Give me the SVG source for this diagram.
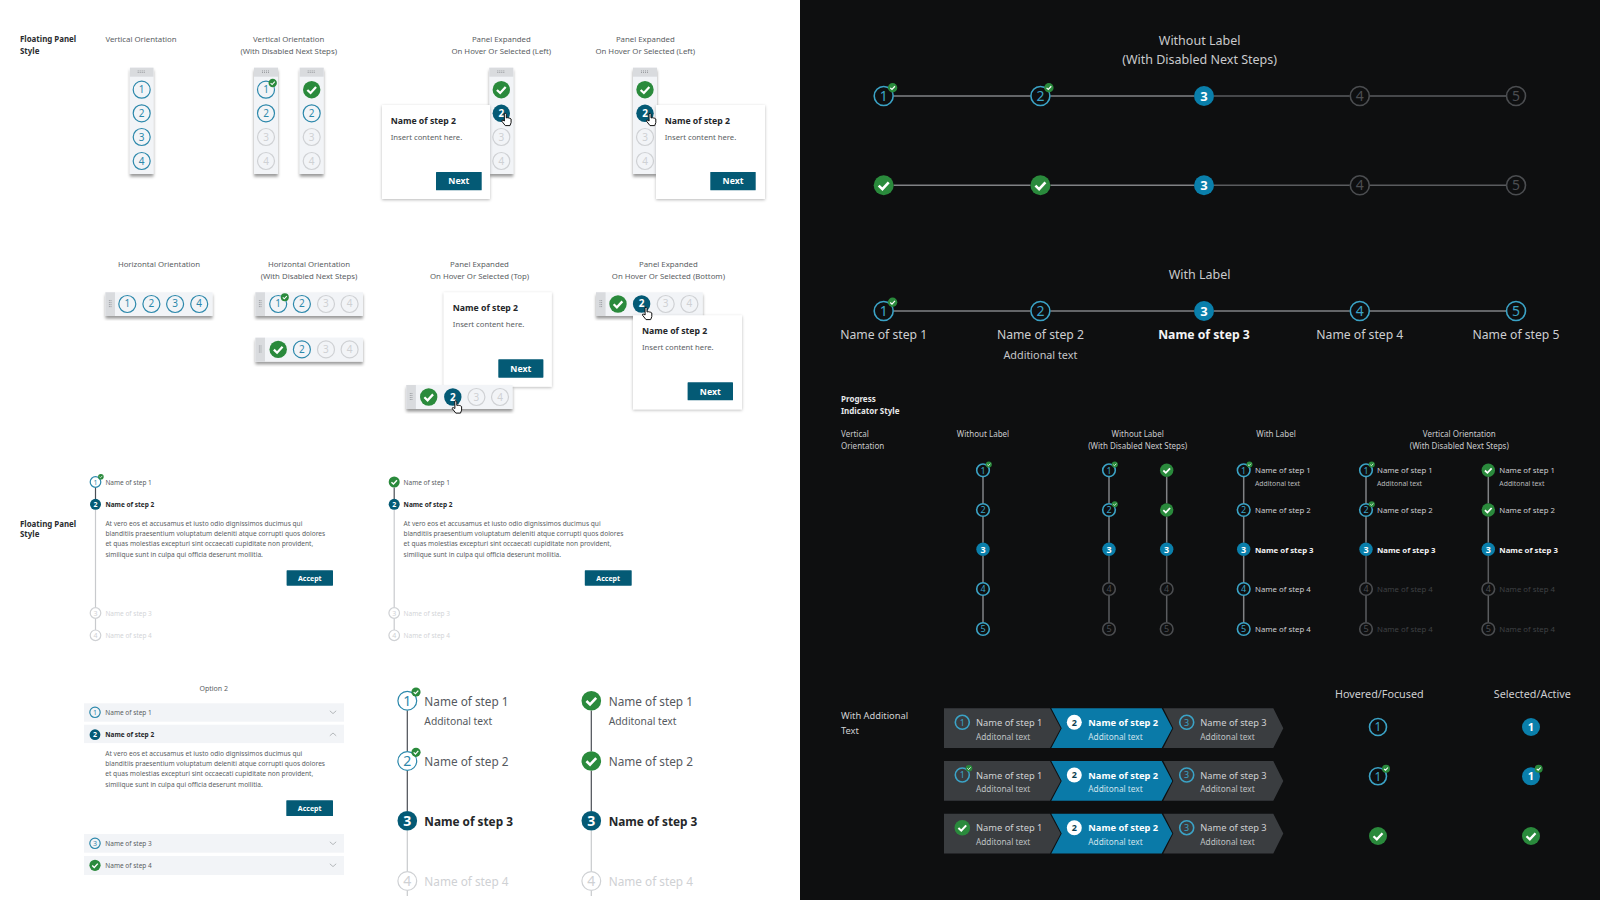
<svg xmlns="http://www.w3.org/2000/svg" xmlns:xlink="http://www.w3.org/1999/xlink" width="1600" height="900" viewBox="0 0 1600 900">
<style>
text{font-family:"Noto Sans","Open Sans",sans-serif}
.cap{font-size:7.8px;fill:#5a5e63;text-anchor:middle}
.hd{font-size:7.9px;font-weight:700;fill:#2a2c2f}
.dcap{font-size:8px;fill:#c9cacc;text-anchor:middle}
.dcapl{font-size:8px;fill:#c9cacc}
.dhd{font-size:8px;font-weight:700;fill:#e8e9ea}
.big{font-size:12.5px;fill:#c9cacc;text-anchor:middle}
.b{fill:none;stroke:#2c88ab;stroke-width:1.2}
.d{fill:none;stroke:#cfd1d4;stroke-width:1.2}
.num{font-size:10px;fill:#2c88ab;text-anchor:middle}
.numd{font-size:10px;fill:#cfd1d4;text-anchor:middle}
.numw{font-size:10px;font-weight:700;fill:#fff;text-anchor:middle}
.pan{fill:#f2f4f7;filter:url(#sh)}
.gr{fill:#d9dbde}
.card{fill:#fff;filter:url(#sc)}
.navy{fill:#045a75}
.ttl{font-size:8.7px;font-weight:700;fill:#25272a}
.ins{font-size:7.7px;fill:#5a5e63}
.btxt{font-size:8.7px;font-weight:700;fill:#fff;text-anchor:middle}
.s{font-size:6.5px;fill:#5a5e63}
.sb{font-size:6.5px;font-weight:700;fill:#25272a}
.sd{font-size:6.5px;fill:#d3d5d8}
.p{font-size:6.6px;fill:#5a5e63}
.acc{font-size:7px;font-weight:700;fill:#fff;text-anchor:middle}
.row{fill:#f2f4f7}
.m{font-size:11.8px;fill:#55595e}
.mb{font-size:11.8px;font-weight:700;fill:#25272a}
.md{font-size:11.8px;fill:#cfd1d4}
.ms{font-size:10.3px;fill:#55595e}
.nlg{font-size:14px;fill:#2c88ab;text-anchor:middle}
.nlgd{font-size:14px;fill:#cfd1d4;text-anchor:middle}
.nlgw{font-size:14px;font-weight:700;fill:#fff;text-anchor:middle}
.db{fill:none;stroke:#3ba3c6;stroke-width:1.6}
.dd{fill:none;stroke:#4b4d50;stroke-width:1.6}
.da{fill:#0a7fab}
.nt{font-size:14px;fill:#3ba3c6;text-anchor:middle}
.nd{font-size:14px;fill:#4b4d50;text-anchor:middle}
.nw{font-size:13px;font-weight:700;fill:#fff;text-anchor:middle}
.lab{font-size:12.2px;fill:#cdced0;text-anchor:middle}
.labb{font-size:12.2px;font-weight:700;fill:#f4f4f5;text-anchor:middle}
.add{font-size:10.8px;fill:#c5c6c8;text-anchor:middle}
.vn{font-size:9px;fill:#3ba3c6;text-anchor:middle}
.vnd{font-size:9px;fill:#4b4d50;text-anchor:middle}
.vnw{font-size:9px;font-weight:700;fill:#fff;text-anchor:middle}
.vl{font-size:7.8px;fill:#cdced0}
.vlb{font-size:7.8px;font-weight:700;fill:#f4f4f5}
.vld{font-size:7.8px;fill:#3f4144}
.vs{font-size:6.85px;fill:#b9babc}
.seg{fill:#3a3d40}
.segb{fill:#0a7aa8}
.cl{font-size:9.3px;fill:#d0d1d3}
.clb{font-size:9.3px;font-weight:700;fill:#fff}
.cs{font-size:8.25px;fill:#bfc1c3}
.csb{font-size:8.25px;fill:#cfe3ec}
.st{font-size:10.8px;fill:#cdced0;text-anchor:middle}
.lo{stroke-width:1.2;fill:none}
</style>
<defs>
<filter id="sh" x="-30%" y="-20%" width="160%" height="140%"><feDropShadow dx="0" dy="2.6" stdDeviation="1.5" flood-color="#000" flood-opacity=".4"/></filter>
<filter id="sc" x="-10%" y="-10%" width="120%" height="120%"><feDropShadow dx="0" dy="1" stdDeviation="1.8" flood-color="#000" flood-opacity=".28"/></filter>
<g id="ck"><circle r="1" fill="#2a8a3c"/><path d="M-.5 .03L-.13 .38L.5 -.3" fill="none" stroke="#fff" stroke-width=".26"/></g>
<g id="gv" fill="#9b9ea2"><rect x="-4" y="-1.3" width="1" height="1"/><rect x="-2" y="-1.3" width="1" height="1"/><rect x="0" y="-1.3" width="1" height="1"/><rect x="2" y="-1.3" width="1" height="1"/><rect x="-4" y=".3" width="1" height="1"/><rect x="-2" y=".3" width="1" height="1"/><rect x="0" y=".3" width="1" height="1"/><rect x="2" y=".3" width="1" height="1"/></g>
<path id="hand" d="M-2 -6.5q1.6 -.7 2 .8v3.6l1.4 -.2 1.2 .3 1.2 .3 1 .7v3.6l-1.1 3h-4.7l-3.5 -4.4q-.4 -1.4 1.3 -1l1.3 .8z" fill="#fff" stroke="#111" stroke-width="1"/>
</defs>
<rect width="800" height="900" fill="#fff"/>
<rect x="800" width="800" height="900" fill="#0e0f10"/>

<g id="connectors">
<g class="lo">
<path d="M95.5 487.4V499" stroke="#4a4e55"/><path d="M95.5 509.7V607.6M95.5 618.4V630" stroke="#c8cacd"/>
<path d="M394.2 487.4V499" stroke="#4a4e55"/><path d="M394.2 509.7V607.6M394.2 618.4V630" stroke="#c8cacd"/>
<path d="M407.3 710.4V751.3M407.3 770.7V811" stroke="#4a4e55"/><path d="M407.3 830.4V871.3M407.3 890.7V896" stroke="#c8cacd"/>
<path d="M591.3 710.4V751.3M591.3 770.7V811" stroke="#4a4e55"/><path d="M591.3 830.4V871.3M591.3 890.7V896" stroke="#c8cacd"/>
</g>
<g fill="none" stroke="#808285" stroke-width="1.5">
<path d="M893.7 96H1030.4M1050.4 96H1194"/><path d="M893.7 185.3H1030.4M1050.4 185.3H1194"/>
<path d="M893.7 311H1030.4M1050.4 311H1194M1214 311H1349.8M1369.8 311H1506"/>
<path d="M983 476.8V503.5M983 516.5V542.8M983 555.8V582.5M983 595.5V622.5"/>
<path d="M1109 476.8V503.5M1109 516.5V542.8"/><path d="M1166.7 476.8V503.5M1166.7 516.5V542.8"/>
<path d="M1243.7 476.8V503.5M1243.7 516.5V542.8M1243.7 555.8V582.5M1243.7 595.5V622.5"/>
<path d="M1366 476.8V503.5M1366 516.5V542.8"/><path d="M1488.3 476.8V503.5M1488.3 516.5V542.8"/>
</g>
<g fill="none" stroke="#5a5c5f" stroke-width="1.5">
<path d="M1214 96H1349.8M1369.8 96H1506"/><path d="M1214 185.3H1349.8M1369.8 185.3H1506"/>
<path d="M1109 555.8V582.5M1109 595.5V622.5"/><path d="M1166.7 555.8V582.5M1166.7 595.5V622.5"/>
<path d="M1366 555.8V582.5M1366 595.5V622.5"/><path d="M1488.3 555.8V582.5M1488.3 595.5V622.5"/>
</g>
</g>

<g id="heading-floating-1"><text class="hd" x="20" y="41.5">Floating Panel</text><text class="hd" x="20" y="53.5">Style</text></g>
<g id="captions-row1">
<text class="cap" x="141" y="41.5">Vertical Orientation</text>
<text class="cap" x="288.7" y="41.5">Vertical Orientation</text><text class="cap" x="288.7" y="53.5">(With Disabled Next Steps)</text>
<text class="cap" x="501.3" y="41.5">Panel Expanded</text><text class="cap" x="501.3" y="53.5">On Hover Or Selected (Left)</text>
<text class="cap" x="645.3" y="41.5">Panel Expanded</text><text class="cap" x="645.3" y="53.5">On Hover Or Selected (Left)</text>
</g>

<g id="vpanel-1" transform="translate(141.7 0)">
<rect class="pan" x="-11.8" y="67.7" width="23.6" height="106.3"/><rect class="gr" x="-11.8" y="67.7" width="23.6" height="9"/><use href="#gv" y="71.7"/>
<circle class="b" cy="89.7" r="8.5"/><text class="num" y="93.2">1</text>
<circle class="b" cy="113.3" r="8.5"/><text class="num" y="116.8">2</text>
<circle class="b" cy="137" r="8.5"/><text class="num" y="140.5">3</text>
<circle class="b" cy="161" r="8.5"/><text class="num" y="164.5">4</text>
</g>
<g id="vpanel-2" transform="translate(266 0)">
<rect class="pan" x="-12" y="67.7" width="24" height="106.3"/><rect class="gr" x="-12" y="67.7" width="24" height="9"/><use href="#gv" y="71.7"/>
<circle class="b" cy="89.7" r="8.5"/><text class="num" y="93.2">1</text><use href="#ck" transform="translate(6.7 83) scale(4.2)"/>
<circle class="b" cy="113.3" r="8.5"/><text class="num" y="116.8">2</text>
<circle class="d" cy="137" r="8.5"/><text class="numd" y="140.5">3</text>
<circle class="d" cy="161" r="8.5"/><text class="numd" y="164.5">4</text>
</g>
<g id="vpanel-3" transform="translate(311.7 0)">
<rect class="pan" x="-12" y="67.7" width="24" height="106.3"/><rect class="gr" x="-12" y="67.7" width="24" height="9"/><use href="#gv" y="71.7"/>
<use href="#ck" transform="translate(0 89.7) scale(8.7)"/>
<circle class="b" cy="113.3" r="8.5"/><text class="num" y="116.8">2</text>
<circle class="d" cy="137" r="8.5"/><text class="numd" y="140.5">3</text>
<circle class="d" cy="161" r="8.5"/><text class="numd" y="164.5">4</text>
</g>
<g id="vpanel-left" transform="translate(501.3 0)">
<rect class="pan" x="-12" y="67.7" width="24" height="106.3"/><rect class="gr" x="-12" y="67.7" width="24" height="9"/><use href="#gv" y="71.7"/>
<use href="#ck" transform="translate(0 89.7) scale(8.7)"/>
<circle class="navy" cy="113.3" r="8.7"/><text class="numw" y="116.8">2</text>
<circle class="d" cy="137" r="8.5"/><text class="numd" y="140.5">3</text>
<circle class="d" cy="161" r="8.5"/><text class="numd" y="164.5">4</text>
<use href="#hand" transform="translate(5 120)"/>
</g>
<g id="card-left">
<rect class="card" x="382" y="105" width="108" height="94"/>
<text class="ttl" x="390.7" y="124">Name of step 2</text><text class="ins" x="390.7" y="140">Insert content here.</text>
<rect class="navy" x="436" y="172" width="45.7" height="18.3" rx=".6"/><text class="btxt" x="458.8" y="184.3">Next</text>
</g>
<g id="vpanel-right" transform="translate(645 0)">
<rect class="pan" x="-12" y="67.7" width="24" height="106.3"/><rect class="gr" x="-12" y="67.7" width="24" height="9"/><use href="#gv" y="71.7"/>
<use href="#ck" transform="translate(0 89.7) scale(8.7)"/>
<circle class="navy" cy="113.3" r="8.7"/><text class="numw" y="116.8">2</text>
<circle class="d" cy="137" r="8.5"/><text class="numd" y="140.5">3</text>
<circle class="d" cy="161" r="8.5"/><text class="numd" y="164.5">4</text>
</g>
<g id="card-right">
<rect class="card" x="656" y="105" width="109" height="94"/>
<text class="ttl" x="664.7" y="124">Name of step 2</text><text class="ins" x="664.7" y="140">Insert content here.</text>
<rect class="navy" x="710.3" y="172" width="45.4" height="18.3" rx=".6"/><text class="btxt" x="733" y="184.3">Next</text>
<use href="#hand" transform="translate(651 120)"/>
</g>

<g id="captions-row2">
<text class="cap" x="159" y="266.7">Horizontal Orientation</text>
<text class="cap" x="309" y="266.7">Horizontal Orientation</text><text class="cap" x="309" y="278.7">(With Disabled Next Steps)</text>
<text class="cap" x="479.5" y="266.7">Panel Expanded</text><text class="cap" x="479.5" y="278.7">On Hover Or Selected (Top)</text>
<text class="cap" x="668.4" y="266.7">Panel Expanded</text><text class="cap" x="668.4" y="278.7">On Hover Or Selected (Bottom)</text>
</g>
<g id="hpanel-1" transform="translate(105.4 292.3)">
<rect class="pan" width="107.2" height="23.7"/><rect class="gr" width="9.6" height="23.7"/><use href="#gv" transform="translate(4.8 11.8) rotate(90)"/>
<circle class="b" cx="21.9" cy="11.7" r="8.5"/><text class="num" x="21.9" y="15.2">1</text>
<circle class="b" cx="46" cy="11.7" r="8.5"/><text class="num" x="46" y="15.2">2</text>
<circle class="b" cx="69.7" cy="11.7" r="8.5"/><text class="num" x="69.7" y="15.2">3</text>
<circle class="b" cx="93.8" cy="11.7" r="8.5"/><text class="num" x="93.8" y="15.2">4</text>
</g>
<g id="hpanel-2" transform="translate(255.4 292.3)">
<rect class="pan" width="107.6" height="23.7"/><rect class="gr" width="9.6" height="23.7"/><use href="#gv" transform="translate(4.8 11.8) rotate(90)"/>
<circle class="b" cx="22.8" cy="11.7" r="8.5"/><text class="num" x="22.8" y="15.2">1</text><use href="#ck" transform="translate(29.4 5) scale(4)"/>
<circle class="b" cx="46.5" cy="11.7" r="8.5"/><text class="num" x="46.5" y="15.2">2</text>
<circle class="d" cx="70.6" cy="11.7" r="8.5"/><text class="numd" x="70.6" y="15.2">3</text>
<circle class="d" cx="94.2" cy="11.7" r="8.5"/><text class="numd" x="94.2" y="15.2">4</text>
</g>
<g id="hpanel-3" transform="translate(255.4 337.7)">
<rect class="pan" width="107.6" height="24"/><rect class="gr" width="9.6" height="24"/><use href="#gv" transform="translate(4.8 11.8) rotate(90)"/>
<use href="#ck" transform="translate(22.8 11.7) scale(8.7)"/>
<circle class="b" cx="46.5" cy="11.7" r="8.5"/><text class="num" x="46.5" y="15.2">2</text>
<circle class="d" cx="70.6" cy="11.7" r="8.5"/><text class="numd" x="70.6" y="15.2">3</text>
<circle class="d" cx="94.2" cy="11.7" r="8.5"/><text class="numd" x="94.2" y="15.2">4</text>
</g>
<g id="card-top">
<rect class="card" x="443.8" y="292.3" width="108" height="94.4"/>
<text class="ttl" x="452.8" y="311">Name of step 2</text><text class="ins" x="452.8" y="327.3">Insert content here.</text>
<rect class="navy" x="498.3" y="359.3" width="45.1" height="18.4" rx=".6"/><text class="btxt" x="520.8" y="371.7">Next</text>
</g>
<g id="hpanel-top" transform="translate(406.3 385)">
<rect class="pan" width="106.3" height="24"/><rect class="gr" width="9.6" height="24"/><use href="#gv" transform="translate(4.8 12) rotate(90)"/>
<use href="#ck" transform="translate(22.4 12) scale(8.7)"/>
<circle class="navy" cx="46.5" cy="12" r="8.7"/><text class="numw" x="46.5" y="15.5">2</text>
<circle class="d" cx="70.1" cy="12" r="8.5"/><text class="numd" x="70.1" y="15.5">3</text>
<circle class="d" cx="93.7" cy="12" r="8.5"/><text class="numd" x="93.7" y="15.5">4</text>
<use href="#hand" transform="translate(50.5 22.5)"/>
</g>
<g id="hpanel-bottom" transform="translate(596 292.3)">
<rect class="pan" width="106.8" height="23.7"/><rect class="gr" width="9.6" height="23.7"/><use href="#gv" transform="translate(4.8 11.8) rotate(90)"/>
<use href="#ck" transform="translate(22 11.7) scale(8.7)"/>
<circle class="navy" cx="45.6" cy="11.7" r="8.7"/><text class="numw" x="45.6" y="15.2">2</text>
<circle class="d" cx="69.7" cy="11.7" r="8.5"/><text class="numd" x="69.7" y="15.2">3</text>
<circle class="d" cx="93.4" cy="11.7" r="8.5"/><text class="numd" x="93.4" y="15.2">4</text>
</g>
<g id="card-bottom">
<rect class="card" x="633" y="315.3" width="109" height="94"/>
<text class="ttl" x="642" y="334">Name of step 2</text><text class="ins" x="642" y="350.3">Insert content here.</text>
<rect class="navy" x="687.6" y="382.3" width="45.4" height="18" rx=".6"/><text class="btxt" x="710.3" y="394.5">Next</text>
<use href="#hand" transform="translate(647 314)"/>
</g>

<g id="heading-floating-2"><text class="hd" x="20" y="526.7">Floating Panel</text><text class="hd" x="20" y="537">Style</text></g>
<g id="list-1">
<circle class="b" cx="95.5" cy="482" r="5.3"/><text class="num" style="font-size:7px" x="95.5" y="484.5">1</text><use href="#ck" transform="translate(100.9 476.7) scale(2.8)"/>
<text class="s" x="105.4" y="484.7">Name of step 1</text>
<circle class="navy" cx="95.5" cy="504.3" r="5.5"/><text class="numw" style="font-size:7px" x="95.5" y="506.8">2</text>
<text class="sb" x="105.4" y="507">Name of step 2</text>
<text class="p" x="105.4" y="526">At vero eos et accusamus et iusto odio dignissimos ducimus qui</text>
<text class="p" x="105.4" y="536.3">blanditiis praesentium voluptatum deleniti atque corrupti quos dolores</text>
<text class="p" x="105.4" y="546.3">et quas molestias excepturi sint occaecati cupiditate non provident,</text>
<text class="p" x="105.4" y="556.7">similique sunt in culpa qui officia deserunt mollitia.</text>
<rect class="navy" x="286.6" y="570.3" width="46.4" height="15.4" rx=".6"/><text class="acc" x="309.8" y="580.5">Accept</text>
<circle class="d" cx="95.5" cy="613" r="5.3"/><text class="numd" style="font-size:7px" x="95.5" y="615.5">3</text><text class="sd" x="105.4" y="615.6">Name of step 3</text>
<circle class="d" cx="95.5" cy="635.3" r="5.3"/><text class="numd" style="font-size:7px" x="95.5" y="637.8">4</text><text class="sd" x="105.4" y="637.9">Name of step 4</text>
</g>
<g id="list-2">
<use href="#ck" transform="translate(394.2 482) scale(5.5)"/>
<text class="s" x="403.6" y="484.7">Name of step 1</text>
<circle class="navy" cx="394.2" cy="504.3" r="5.5"/><text class="numw" style="font-size:7px" x="394.2" y="506.8">2</text>
<text class="sb" x="403.6" y="507">Name of step 2</text>
<text class="p" x="403.6" y="526">At vero eos et accusamus et iusto odio dignissimos ducimus qui</text>
<text class="p" x="403.6" y="536.3">blanditiis praesentium voluptatum deleniti atque corrupti quos dolores</text>
<text class="p" x="403.6" y="546.3">et quas molestias excepturi sint occaecati cupiditate non provident,</text>
<text class="p" x="403.6" y="556.7">similique sunt in culpa qui officia deserunt mollitia.</text>
<rect class="navy" x="584.8" y="570.3" width="46.9" height="15.4" rx=".6"/><text class="acc" x="608.2" y="580.5">Accept</text>
<circle class="d" cx="394.2" cy="613" r="5.3"/><text class="numd" style="font-size:7px" x="394.2" y="615.5">3</text><text class="sd" x="403.6" y="615.6">Name of step 3</text>
<circle class="d" cx="394.2" cy="635.3" r="5.3"/><text class="numd" style="font-size:7px" x="394.2" y="637.8">4</text><text class="sd" x="403.6" y="637.9">Name of step 4</text>
</g>

<g id="accordion">
<text class="cap" style="font-size:7px" x="213.7" y="690.7">Option 2</text>
<rect class="row" x="84" y="703.3" width="260" height="18.4"/><rect class="row" x="84" y="724.7" width="260" height="18.4"/><rect class="row" x="84" y="834" width="260" height="18.7"/><rect class="row" x="84" y="856" width="260" height="19"/>
<circle class="b" cx="95" cy="712.3" r="5.2"/><text class="num" style="font-size:7px" x="95" y="714.8">1</text><text class="s" x="105.3" y="715">Name of step 1</text>
<circle class="navy" cx="95" cy="734.7" r="5.4"/><text class="numw" style="font-size:7px" x="95" y="737.2">2</text><text class="sb" x="105.3" y="737.3">Name of step 2</text>
<text class="p" x="105.3" y="756">At vero eos et accusamus et iusto odio dignissimos ducimus qui</text>
<text class="p" x="105.3" y="766.3">blanditiis praesentium voluptatum deleniti atque corrupti quos dolores</text>
<text class="p" x="105.3" y="776.3">et quas molestias excepturi sint occaecati cupiditate non provident,</text>
<text class="p" x="105.3" y="786.7">similique sunt in culpa qui officia deserunt mollitia.</text>
<rect class="navy" x="286.3" y="800.3" width="46.7" height="15.7" rx=".6"/><text class="acc" x="309.7" y="810.6">Accept</text>
<circle class="b" cx="95" cy="843.3" r="5.2"/><text class="num" style="font-size:7px" x="95" y="845.8">3</text><text class="s" x="105.3" y="846">Name of step 3</text>
<use href="#ck" transform="translate(95 865.3) scale(5.6)"/><text class="s" x="105.3" y="868">Name of step 4</text>
<g fill="none" stroke="#9a9da1" stroke-width=".7"><path d="M329.8 710.8L333 713.6L336.2 710.8"/><path d="M329.8 735.8L333 733L336.2 735.8"/><path d="M329.8 841.8L333 844.6L336.2 841.8"/><path d="M329.8 863.8L333 866.6L336.2 863.8"/></g>
</g>

<g id="large-stepper-1">
<circle fill="#fff" stroke="#2c88ab" stroke-width="1.2" cx="407.3" cy="700.7" r="9.4"/><text class="nlg" x="407.3" y="705.7">1</text><use href="#ck" transform="translate(416 692) scale(4.6)"/>
<text class="m" x="424.3" y="705.7">Name of step 1</text><text class="ms" x="424.3" y="725">Additonal text</text>
<circle class="b" cx="407.3" cy="761" r="9.4"/><text class="nlg" x="407.3" y="766">2</text><use href="#ck" transform="translate(416 752.3) scale(4.6)"/>
<text class="m" x="424.3" y="765.7">Name of step 2</text>
<circle class="navy" cx="407.3" cy="820.7" r="9.8"/><text class="nlgw" x="407.3" y="825.7">3</text>
<text class="mb" x="424.3" y="825.7">Name of step 3</text>
<circle class="d" cx="407.3" cy="881" r="9.4"/><text class="nlgd" x="407.3" y="886">4</text>
<text class="md" x="424.3" y="886">Name of step 4</text>
</g>
<g id="large-stepper-2">
<use href="#ck" transform="translate(591.3 700.7) scale(9.8)"/>
<text class="m" x="608.7" y="705.7">Name of step 1</text><text class="ms" x="608.7" y="725">Additonal text</text>
<use href="#ck" transform="translate(591.3 761) scale(9.8)"/>
<text class="m" x="608.7" y="765.7">Name of step 2</text>
<circle class="navy" cx="591.3" cy="820.7" r="9.8"/><text class="nlgw" x="591.3" y="825.7">3</text>
<text class="mb" x="608.7" y="825.7">Name of step 3</text>
<circle class="d" cx="591.3" cy="881" r="9.4"/><text class="nlgd" x="591.3" y="886">4</text>
<text class="md" x="608.7" y="886">Name of step 4</text>
</g>

<g id="dark-top-captions"><text class="big" x="1199.6" y="45">Without Label</text><text class="big" x="1199.6" y="64">(With Disabled Next Steps)</text><text class="big" x="1199.6" y="279">With Label</text></g>
<g id="hstep-row1">
<circle class="db" cx="883.7" cy="96" r="9.5"/><text class="nt" x="883.7" y="101">1</text><use href="#ck" transform="translate(892.6 87.7) scale(4.7)"/>
<circle class="db" cx="1040.4" cy="96" r="9.5"/><text class="nt" x="1040.4" y="101">2</text><use href="#ck" transform="translate(1048.9 87.7) scale(4.7)"/>
<circle class="da" cx="1204" cy="96" r="10"/><text class="nw" x="1204" y="100.6">3</text>
<circle class="dd" cx="1359.8" cy="96" r="9.5"/><text class="nd" x="1359.8" y="101">4</text>
<circle class="dd" cx="1516" cy="96" r="9.5"/><text class="nd" x="1516" y="101">5</text>
</g>
<g id="hstep-row2">
<use href="#ck" transform="translate(883.7 185.3) scale(10)"/>
<use href="#ck" transform="translate(1040.4 185.3) scale(10)"/>
<circle class="da" cx="1204" cy="185.3" r="10"/><text class="nw" x="1204" y="189.9">3</text>
<circle class="dd" cx="1359.8" cy="185.3" r="9.5"/><text class="nd" x="1359.8" y="190.3">4</text>
<circle class="dd" cx="1516" cy="185.3" r="9.5"/><text class="nd" x="1516" y="190.3">5</text>
</g>
<g id="hstep-row3">
<circle class="db" cx="883.7" cy="311" r="9.5"/><text class="nt" x="883.7" y="316">1</text><use href="#ck" transform="translate(892.6 302.3) scale(4.7)"/><text class="lab" x="883.7" y="339.3">Name of step 1</text>
<circle class="db" cx="1040.4" cy="311" r="9.5"/><text class="nt" x="1040.4" y="316">2</text><text class="lab" x="1040.4" y="339.3">Name of step 2</text><text class="add" x="1040.4" y="359">Additional text</text>
<circle class="da" cx="1204" cy="311" r="10"/><text class="nw" x="1204" y="315.6">3</text><text class="labb" x="1204" y="339.3">Name of step 3</text>
<circle class="db" cx="1359.8" cy="311" r="9.5"/><text class="nt" x="1359.8" y="316">4</text><text class="lab" x="1359.8" y="339.3">Name of step 4</text>
<circle class="db" cx="1516" cy="311" r="9.5"/><text class="nt" x="1516" y="316">5</text><text class="lab" x="1516" y="339.3">Name of step 5</text>
</g>

<g id="dark-captions">
<text class="dhd" x="841" y="401.7">Progress</text><text class="dhd" x="841" y="414">Indicator Style</text>
<text class="dcapl" x="841" y="437">Vertical</text><text class="dcapl" x="841" y="449.3">Orientation</text>
<text class="dcap" x="983" y="437">Without Label</text>
<text class="dcap" x="1137.7" y="437">Without Label</text><text class="dcap" x="1137.7" y="449.3">(With Disabled Next Steps)</text>
<text class="dcap" x="1276" y="437">With Label</text>
<text class="dcap" x="1459.3" y="437">Vertical Orientation</text><text class="dcap" x="1459.3" y="449.3">(With Disabled Next Steps)</text>
</g>
<g id="vstep-1" transform="translate(983 0)">
<circle class="db" cy="470.3" r="6.3"/><text class="vn" y="473.5">1</text><use href="#ck" transform="translate(5.8 464.6) scale(3)"/>
<circle class="db" cy="510" r="6.3"/><text class="vn" y="513.2">2</text>
<circle class="da" cy="549.3" r="6.7"/><text class="vnw" y="552.5">3</text>
<circle class="db" cy="589" r="6.3"/><text class="vn" y="592.2">4</text>
<circle class="db" cy="629" r="6.3"/><text class="vn" y="632.2">5</text>
</g>
<g id="vstep-2" transform="translate(1109 0)">
<circle class="db" cy="470.3" r="6.3"/><text class="vn" y="473.5">1</text><use href="#ck" transform="translate(5.8 464.6) scale(3)"/>
<circle class="db" cy="510" r="6.3"/><text class="vn" y="513.2">2</text><use href="#ck" transform="translate(5.8 504.3) scale(3)"/>
<circle class="da" cy="549.3" r="6.7"/><text class="vnw" y="552.5">3</text>
<circle class="dd" cy="589" r="6.3"/><text class="vnd" y="592.2">4</text>
<circle class="dd" cy="629" r="6.3"/><text class="vnd" y="632.2">5</text>
</g>
<g id="vstep-3" transform="translate(1166.7 0)">
<use href="#ck" transform="translate(0 470.3) scale(6.7)"/>
<use href="#ck" transform="translate(0 510) scale(6.7)"/>
<circle class="da" cy="549.3" r="6.7"/><text class="vnw" y="552.5">3</text>
<circle class="dd" cy="589" r="6.3"/><text class="vnd" y="592.2">4</text>
<circle class="dd" cy="629" r="6.3"/><text class="vnd" y="632.2">5</text>
</g>
<g id="vstep-4" transform="translate(1243.7 0)">
<circle class="db" cy="470.3" r="6.3"/><text class="vn" y="473.5">1</text><use href="#ck" transform="translate(5.8 464.6) scale(3)"/>
<circle class="db" cy="510" r="6.3"/><text class="vn" y="513.2">2</text>
<circle class="da" cy="549.3" r="6.7"/><text class="vnw" y="552.5">3</text>
<circle class="db" cy="589" r="6.3"/><text class="vn" y="592.2">4</text>
<circle class="db" cy="629" r="6.3"/><text class="vn" y="632.2">5</text>
<g transform="translate(11.3 0)"><text class="vl" y="473">Name of step 1</text><text class="vs" y="485.7">Additonal text</text><text class="vl" y="512.7">Name of step 2</text><text class="vlb" y="552.7">Name of step 3</text><text class="vl" y="592.3">Name of step 4</text><text class="vl" y="632">Name of step 4</text></g>
</g>
<g id="vstep-5" transform="translate(1366 0)">
<circle class="db" cy="470.3" r="6.3"/><text class="vn" y="473.5">1</text><use href="#ck" transform="translate(5.8 464.6) scale(3)"/>
<circle class="db" cy="510" r="6.3"/><text class="vn" y="513.2">2</text><use href="#ck" transform="translate(5.8 504.3) scale(3)"/>
<circle class="da" cy="549.3" r="6.7"/><text class="vnw" y="552.5">3</text>
<circle class="dd" cy="589" r="6.3"/><text class="vnd" y="592.2">4</text>
<circle class="dd" cy="629" r="6.3"/><text class="vnd" y="632.2">5</text>
<g transform="translate(11 0)"><text class="vl" y="473">Name of step 1</text><text class="vs" y="485.7">Additonal text</text><text class="vl" y="512.7">Name of step 2</text><text class="vlb" y="552.7">Name of step 3</text><text class="vld" y="592.3">Name of step 4</text><text class="vld" y="632">Name of step 4</text></g>
</g>
<g id="vstep-6" transform="translate(1488.3 0)">
<use href="#ck" transform="translate(0 470.3) scale(6.7)"/>
<use href="#ck" transform="translate(0 510) scale(6.7)"/>
<circle class="da" cy="549.3" r="6.7"/><text class="vnw" y="552.5">3</text>
<circle class="dd" cy="589" r="6.3"/><text class="vnd" y="592.2">4</text>
<circle class="dd" cy="629" r="6.3"/><text class="vnd" y="632.2">5</text>
<g transform="translate(11 0)"><text class="vl" y="473">Name of step 1</text><text class="vs" y="485.7">Additonal text</text><text class="vl" y="512.7">Name of step 2</text><text class="vlb" y="552.7">Name of step 3</text><text class="vld" y="592.3">Name of step 4</text><text class="vld" y="632">Name of step 4</text></g>
</g>

<g id="chev-caption"><text class="cl" x="841" y="719.3">With Additional</text><text class="cl" x="841" y="733.7">Text</text></g>
<g id="chev-row1">
<path class="seg" d="M944 708.3H1050L1060.7 728.2L1050 748H944Z"/><path class="segb" d="M1051.3 708.3H1161.7L1172.3 728.2L1161.7 748H1051.3L1061.7 728.2Z"/><path class="seg" d="M1163.3 708.3H1273.3L1283.3 728.2L1273.3 748H1163.3L1173.3 728.2Z"/>
<circle class="db" stroke-width="1" cx="962.3" cy="722.3" r="7"/><text class="vn" x="962.3" y="725.6">1</text><text class="cl" x="976" y="726">Name of step 1</text><text class="cs" x="976" y="739.7">Additonal text</text>
<circle fill="#fff" cx="1074.3" cy="722.3" r="7.5"/><text class="vnw" style="fill:#0b3f52" x="1074.3" y="725.5">2</text><text class="clb" x="1088.3" y="726">Name of step 2</text><text class="csb" x="1088.3" y="739.7">Additonal text</text>
<circle class="db" stroke-width="1" cx="1186.7" cy="722.3" r="7"/><text class="vn" x="1186.7" y="725.6">3</text><text class="cl" x="1200.3" y="726">Name of step 3</text><text class="cs" x="1200.3" y="739.7">Additonal text</text>
</g>
<g id="chev-row2" transform="translate(0 52.7)">
<path class="seg" d="M944 708.3H1050L1060.7 728.2L1050 748H944Z"/><path class="segb" d="M1051.3 708.3H1161.7L1172.3 728.2L1161.7 748H1051.3L1061.7 728.2Z"/><path class="seg" d="M1163.3 708.3H1273.3L1283.3 728.2L1273.3 748H1163.3L1173.3 728.2Z"/>
<circle class="db" stroke-width="1" cx="962.3" cy="722.3" r="7"/><text class="vn" x="962.3" y="725.6">1</text><use href="#ck" transform="translate(969 715.6) scale(3.3)"/><text class="cl" x="976" y="726">Name of step 1</text><text class="cs" x="976" y="739.7">Additonal text</text>
<circle fill="#fff" cx="1074.3" cy="722.3" r="7.5"/><text class="vnw" style="fill:#0b3f52" x="1074.3" y="725.5">2</text><text class="clb" x="1088.3" y="726">Name of step 2</text><text class="csb" x="1088.3" y="739.7">Additonal text</text>
<circle class="db" stroke-width="1" cx="1186.7" cy="722.3" r="7"/><text class="vn" x="1186.7" y="725.6">3</text><text class="cl" x="1200.3" y="726">Name of step 3</text><text class="cs" x="1200.3" y="739.7">Additonal text</text>
</g>
<g id="chev-row3" transform="translate(0 105.4)">
<path class="seg" d="M944 708.3H1050L1060.7 728.2L1050 748H944Z"/><path class="segb" d="M1051.3 708.3H1161.7L1172.3 728.2L1161.7 748H1051.3L1061.7 728.2Z"/><path class="seg" d="M1163.3 708.3H1273.3L1283.3 728.2L1273.3 748H1163.3L1173.3 728.2Z"/>
<use href="#ck" transform="translate(962.3 722.3) scale(7.8)"/><text class="cl" x="976" y="726">Name of step 1</text><text class="cs" x="976" y="739.7">Additonal text</text>
<circle fill="#fff" cx="1074.3" cy="722.3" r="7.5"/><text class="vnw" style="fill:#0b3f52" x="1074.3" y="725.5">2</text><text class="clb" x="1088.3" y="726">Name of step 2</text><text class="csb" x="1088.3" y="739.7">Additonal text</text>
<circle class="db" stroke-width="1" cx="1186.7" cy="722.3" r="7"/><text class="vn" x="1186.7" y="725.6">3</text><text class="cl" x="1200.3" y="726">Name of step 3</text><text class="cs" x="1200.3" y="739.7">Additonal text</text>
</g>
<g id="states">
<text class="st" x="1379.3" y="698.3">Hovered/Focused</text><text class="st" x="1532.3" y="698.3">Selected/Active</text>
<circle class="db" cx="1378" cy="727" r="8.5"/><text class="nt" style="font-size:12px" x="1378" y="731.3">1</text>
<circle class="da" cx="1531" cy="727" r="9"/><text class="nw" style="font-size:11px" x="1531" y="731">1</text>
<circle class="db" cx="1378" cy="776.3" r="8.5"/><text class="nt" style="font-size:12px" x="1378" y="780.6">1</text><use href="#ck" transform="translate(1386 768.7) scale(4)"/>
<circle class="da" cx="1531" cy="776.3" r="9"/><text class="nw" style="font-size:11px" x="1531" y="780.3">1</text><use href="#ck" transform="translate(1538.7 768.7) scale(4)"/>
<use href="#ck" transform="translate(1378 836) scale(9)"/>
<use href="#ck" transform="translate(1531 836) scale(9)"/>
</g>
</svg>
